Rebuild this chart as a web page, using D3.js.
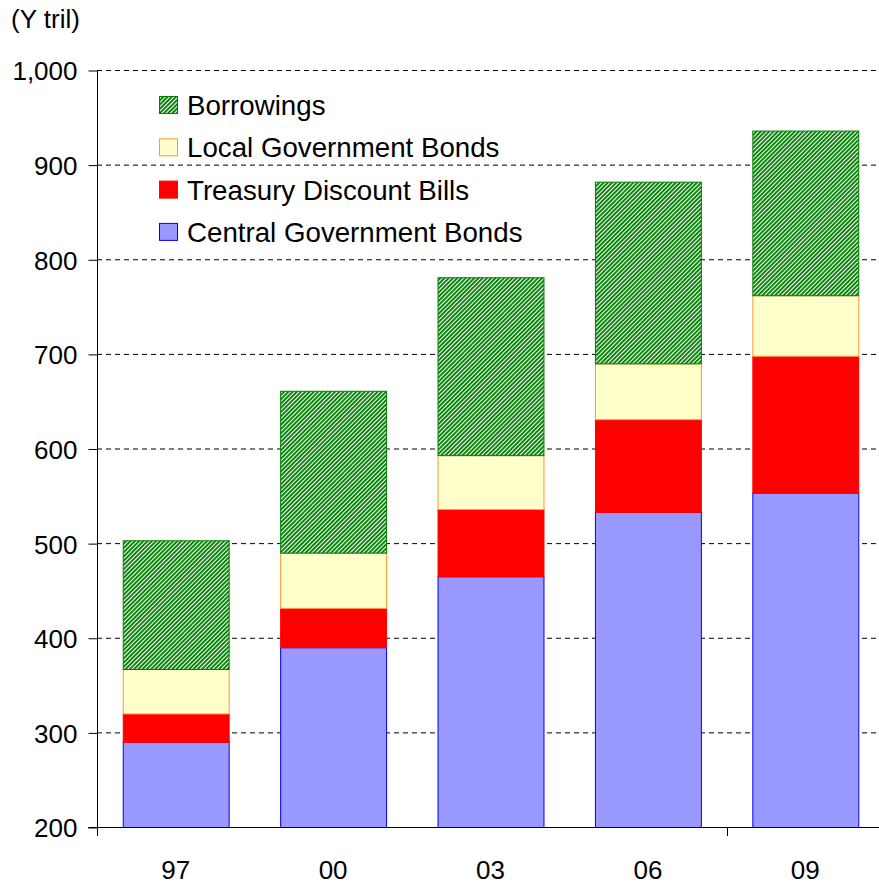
<!DOCTYPE html>
<html><head><meta charset="utf-8">
<script src="https://cdn.jsdelivr.net/npm/d3@7"></script>
<style>body{margin:0;background:#fff;} text{font-family:"Liberation Sans",Arial,sans-serif;}</style>
</head><body>
<svg id="c" width="879" height="885"></svg>
<script>
const categories = ["97","00","03","06","09"];
const centralGovBonds = [290, 390, 465, 533, 553];
const treasuryBills = [30, 41.5, 71, 98, 145];
const localGovBonds = [47, 58.5, 57, 59, 64];
const borrowings = [136, 171, 188, 192, 174];
const yTicks = [200,300,400,500,600,700,800,900,1000];
const seriesNames = ["Central Government Bonds","Treasury Discount Bills","Local Government Bonds","Borrowings"];

const svg = d3.select("#c");
const defs = svg.append("defs");
const pat = defs.append("pattern").attr("id","hatch").attr("patternUnits","userSpaceOnUse")
  .attr("width",3).attr("height",3).attr("patternTransform","rotate(45)");
pat.append("rect").attr("width",3).attr("height",3).attr("fill","#fff");
pat.append("rect").attr("width",1.9).attr("height",3).attr("fill","#008000");

const styles = [
  {fill:"#9999FF", stroke:"#0000FF"},
  {fill:"#FF0000", stroke:"#FF0000"},
  {fill:"#FFFFCC", stroke:"#FF9933"},
  {fill:"url(#hatch)", stroke:"#008000"}
];

const x = d3.scaleBand().domain(categories).range([97,884]).paddingInner(0.327).paddingOuter(0.1635);
const y = d3.scaleLinear().domain([200,1000]).range([827,70]);
const yMin = y.domain()[0];

// gridlines
svg.append("g").selectAll("line").data(yTicks.filter(t=>t>yMin)).join("line")
  .attr("x1",97).attr("x2",879).attr("y1",d=>y(d)+0.5).attr("y2",d=>y(d)+0.5)
  .attr("stroke","#000").attr("stroke-dasharray","5,4").attr("stroke-width",1);

// stacks
const rows = categories.map((c,i)=>({cat:c, s0:centralGovBonds[i], s1:treasuryBills[i], s2:localGovBonds[i], s3:borrowings[i]}));
const stack = d3.stack().keys(["s0","s1","s2","s3"])(rows);
stack.forEach((layer,k)=>{
  svg.append("g").selectAll("rect").data(layer).join("rect")
    .attr("x",d=>x(d.data.cat)+0.5).attr("width",x.bandwidth())
    .attr("y",d=>y(d[1])+0.5).attr("height",d=>y(Math.max(d[0],yMin))-y(d[1]))
    .attr("fill",styles[k].fill).attr("stroke",styles[k].stroke).attr("stroke-width",1);
});

// y axis
const yAxis = d3.axisLeft(y).tickValues(yTicks).tickSize(9).tickPadding(6)
  .tickFormat(d3.format(","));
const gy = svg.append("g").attr("transform","translate(97.5,0.5)").call(yAxis);
gy.select(".domain").attr("d","M0,"+y(1000)+"V"+y(200));
gy.selectAll("text").attr("font-size",26).attr("fill","#000").attr("dx",-5).attr("dy","0.36em");
gy.selectAll("line").attr("stroke","#000");
gy.selectAll(".domain").attr("stroke","#000");

// x axis
svg.append("line").attr("x1",88).attr("x2",879).attr("y1",y(200)+0.5).attr("y2",y(200)+0.5).attr("stroke","#000");
const bounds = [x.range()[0], x.range()[0] + x.step()*4];
svg.append("g").selectAll("line").data(bounds).join("line")
  .attr("x1",d=>Math.round(d)+0.5).attr("x2",d=>Math.round(d)+0.5)
  .attr("y1",y(200)).attr("y2",y(200)+9).attr("stroke","#000");
svg.append("g").selectAll("text").data(categories).join("text")
  .attr("x",d=>x(d)+x.bandwidth()/2).attr("y",879).attr("text-anchor","middle")
  .attr("font-size",26).text(d=>d);

// unit label
svg.append("text").attr("x",11).attr("y",28).attr("font-size",26).text("(Y tril)");

// legend
const legendOrder = [3,2,1,0];
const lg = svg.append("g");
legendOrder.forEach((k,i)=>{
  const top = 96 + i*42.3;
  lg.append("rect").attr("x",159.5).attr("y",top+0.5).attr("width",18).attr("height",17)
    .attr("fill",styles[k].fill).attr("stroke",styles[k].stroke);
  lg.append("text").attr("x",187).attr("y",top+19).attr("font-size",27.7).text(seriesNames[k]);
});
</script>
</body></html>
